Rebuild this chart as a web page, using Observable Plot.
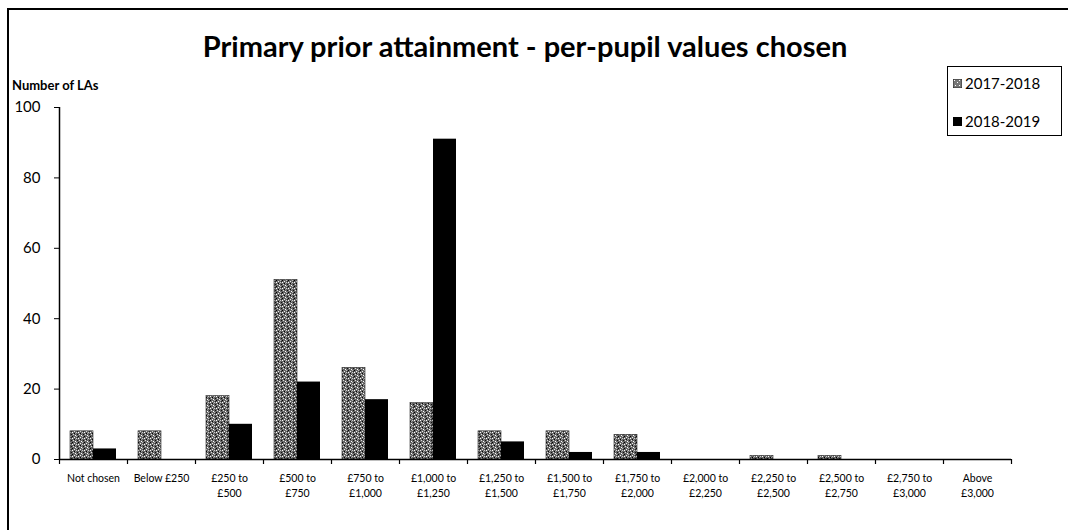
<!DOCTYPE html>
<html>
<head>
<meta charset="utf-8">
<script src="https://cdn.jsdelivr.net/npm/d3@7"></script>
<script src="https://cdn.jsdelivr.net/npm/@observablehq/plot@0.6"></script>
<style>
  html, body { margin: 0; padding: 0; background: #fff; }
  #wrap { position: relative; width: 1068px; height: 530px; overflow: hidden; font-family: Lato, "Open Sans", sans-serif; }
  #frame { position: absolute; left: 7px; top: 8px; width: 1100px; height: 600px; border-left: 2px solid #000; border-top: 2px solid #000; }
  #title { position: absolute; left: 0; top: 28px; width: 1050px; text-align: center; font-weight: bold; font-size: 29px; color: #000; }
  #ylabel { position: absolute; left: 12px; top: 77px; font-weight: bold; font-size: 13px; color: #000; }
  #legend { position: absolute; left: 947px; top: 66px; width: 115px; height: 70px; border: 1px solid #000; box-sizing: border-box; font-size: 15px; color: #000; }
  .li { position: absolute; left: 5px; display: flex; align-items: center; }
  .sw { width: 9px; height: 9px; margin-right: 3px; }
  #chart { position: absolute; left: 0; top: 0; }
</style>
</head>
<body>
<div id="wrap">
  <div id="frame"></div>
  <div id="chart"></div>
  <div id="title">Primary prior attainment - per-pupil values chosen</div>
  <div id="ylabel">Number of LAs</div>
  <div id="legend"></div>
</div>
<script>
const categories = ["Not chosen", "Below £250", "£250 to\n£500", "£500 to\n£750", "£750 to\n£1,000", "£1,000 to\n£1,250", "£1,250 to\n£1,500", "£1,500 to\n£1,750", "£1,750 to\n£2,000", "£2,000 to\n£2,250", "£2,250 to\n£2,500", "£2,500 to\n£2,750", "£2,750 to\n£3,000", "Above\n£3,000"];
const seriesNames = ["2017-2018", "2018-2019"];
const values2017 = [8, 8, 18, 51, 26, 16, 8, 8, 7, 0, 1, 1, 0, 0];
const values2018 = [3, 0, 10, 22, 17, 91, 5, 2, 2, 0, 0, 0, 0, 0];
const yTicks = [0, 20, 40, 60, 80, 100];

const data2017 = categories.map((c, i) => ({cat: c, value: values2017[i], series: seriesNames[0]}));
const data2018 = categories.map((c, i) => ({cat: c, value: values2018[i], series: seriesNames[1]}));

const chart = Plot.plot({
  width: 1068,
  height: 530,
  marginLeft: 59,
  marginRight: 57,
  marginTop: 107,
  marginBottom: 71,
  style: {fontFamily: "Lato, 'Open Sans', sans-serif", color: "#000", background: "transparent"},
  x: {domain: categories, padding: 0, axis: null, label: null},
  y: {domain: [0, 100], axis: null, label: null},
  marks: [
    Plot.barY(data2017, {x: "cat", y: "value", fill: "url(#speckle)", stroke: "#222", strokeWidth: 0.6, insetLeft: 11, insetRight: 34}),
    Plot.barY(data2018, {x: "cat", y: "value", fill: "#000", insetLeft: 34, insetRight: 11}),
    Plot.axisX({tickSize: 0, tickPadding: 11, fontSize: 10.5, lineHeight: 1.5, textAnchor: "middle", label: null}),
    Plot.axisY({ticks: yTicks, tickSize: 5, tickPadding: 14, fontSize: 15, tickFormat: d => d, label: null}),
    Plot.ruleY([0], {stroke: "#000", strokeWidth: 1.5}),
    Plot.ruleX(categories, {x: d => d, dx: -34, y1: () => 0, y2: () => -1.42, stroke: "#000", strokeWidth: 1.2}),
    Plot.ruleX([categories[categories.length - 1]], {x: d => d, dx: 34, y1: () => 0, y2: () => -1.42, stroke: "#000", strokeWidth: 1.2}),
    Plot.ruleX([categories[0]], {x: d => d, dx: -34, y1: () => 0, y2: () => 100, stroke: "#000", strokeWidth: 1.5})
  ]
});

d3.select(chart).insert("defs", ":first-child").html(`
  <pattern id="speckle" patternUnits="userSpaceOnUse" width="6" height="6">
    <rect width="6" height="6" fill="#666"/>
    <rect x="0" y="0" width="1" height="1" fill="#fff"/>
    <rect x="2" y="1" width="1" height="1" fill="#000"/>
    <rect x="4" y="0" width="1" height="1" fill="#ccc"/>
    <rect x="1" y="2" width="1" height="1" fill="#ddd"/>
    <rect x="5" y="2" width="1" height="1" fill="#111"/>
    <rect x="3" y="3" width="1" height="1" fill="#fff"/>
    <rect x="0" y="4" width="1" height="1" fill="#000"/>
    <rect x="4" y="4" width="1" height="1" fill="#bbb"/>
    <rect x="2" y="5" width="1" height="1" fill="#eee"/>
    <rect x="5" y="5" width="1" height="1" fill="#222"/>
    <rect x="3" y="1" width="1" height="1" fill="#999"/>
  </pattern>`);

document.getElementById("chart").appendChild(chart);

const legend = document.getElementById("legend");
seriesNames.forEach((s, i) => {
  const item = document.createElement("div");
  item.className = "li";
  item.style.top = (i === 0 ? 7 : 45) + "px";
  item.innerHTML = `<svg class="sw" width="9" height="9"><rect width="9" height="9" fill="${i === 0 ? "#777" : "#000"}" stroke="#000" stroke-width="0.6"/>${i === 0 ? '<path d="M1 1h1v1h-1zM4 3h1v1h-1zM6 1h1v1h-1zM2 6h1v1h-1zM6 6h1v1h-1z" fill="#fff"/>' : ""}</svg><span>${s}</span>`;
  legend.appendChild(item);
});
</script>
</body>
</html>
